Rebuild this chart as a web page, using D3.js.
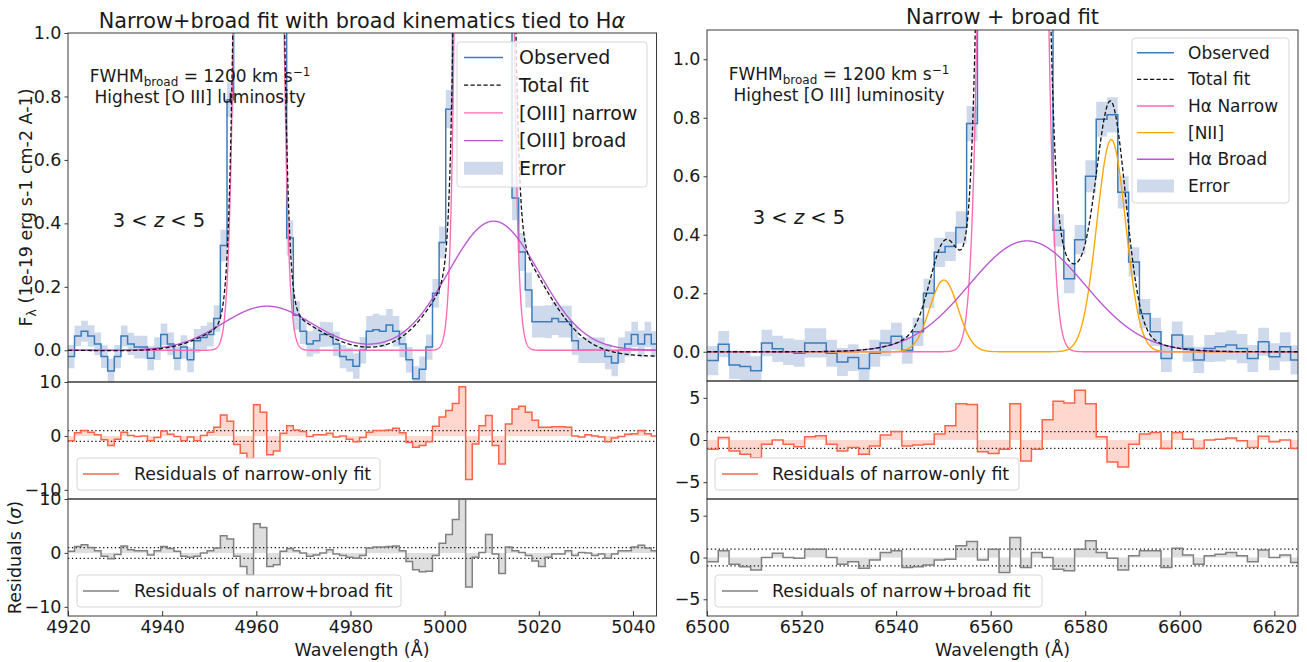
<!DOCTYPE html>
<html>
<head>
<meta charset="utf-8">
<script src="https://cdn.jsdelivr.net/npm/d3@7"></script>
<style>
  html, body { margin: 0; padding: 0; background: #ffffff; }
  svg { display: block; }
</style>
</head>
<body>
<script>
// ---------------- [O III] 4959, 5007 window ----------------
const oiiiWave = [
  4920.68, 4922.09, 4923.50, 4924.91, 4926.32, 4927.72, 4929.13, 4930.54, 4931.95, 4933.36,
  4934.76, 4936.17, 4937.58, 4938.99, 4940.40, 4941.80, 4943.21, 4944.62, 4946.03, 4947.44,
  4948.84, 4950.25, 4951.66, 4953.07, 4954.48, 4955.88, 4957.29, 4958.70, 4960.11, 4961.52,
  4962.92, 4964.33, 4965.74, 4967.15, 4968.56, 4969.96, 4971.37, 4972.78, 4974.19, 4975.60,
  4977.00, 4978.41, 4979.82, 4981.23, 4982.64, 4984.04, 4985.45, 4986.86, 4988.27, 4989.68,
  4991.08, 4992.49, 4993.90, 4995.31, 4996.72, 4998.12, 4999.53, 5000.94, 5002.35, 5003.76,
  5005.16, 5006.57, 5007.98, 5009.39, 5010.80, 5012.20, 5013.61, 5015.02, 5016.43, 5017.84,
  5019.24, 5020.65, 5022.06, 5023.47, 5024.88, 5026.28, 5027.69, 5029.10, 5030.51, 5031.92,
  5033.32, 5034.73, 5036.14, 5037.55, 5038.96, 5040.36, 5041.77, 5043.18, 5044.59
];
const oiiiFlux = [
  -0.02, 0.045, 0.06, 0.045, 0.02, -0.02, -0.065, -0.02, 0.045, 0.02,
  0.01, 0.01, -0.025, 0.005, 0.05, 0.02, -0.025, 0.01, -0.03, 0.03,
  0.04, 0.05, 0.10, 0.33, 0.79, 2.3, 6.4, 12.8, 17.3, 16.0,
  10.0, 4.3, 1.4, 0.354, 0.11, 0.06, 0.02, 0.03, 0.05, 0.05,
  0.02, -0.02, -0.03, -0.05, 0.0, 0.06, 0.065, 0.06, 0.08, 0.06,
  0.02, -0.03, -0.09, -0.06, 0.01, 0.18, 0.34, 0.76, 2.0, 6.6,
  18.9, 37.7, 51.0, 47.0, 30.0, 13.0, 4.0, 0.48, 0.31, 0.19,
  0.09, 0.09, 0.09, 0.10, 0.09, 0.09, 0.03, 0.0, 0.0, 0.0,
  0.0, -0.02, -0.04, 0.0, 0.02, 0.05, 0.02, 0.05, 0.02
];
const oiiiErr = [
  0.037, 0.032, 0.033, 0.034, 0.036, 0.036, 0.038, 0.037, 0.033, 0.035,
  0.036, 0.036, 0.038, 0.036, 0.034, 0.036, 0.038, 0.037, 0.039, 0.037,
  0.037, 0.038, 0.042, 0.05, 0.055, 0.1, 0.2, 0.3, 0.35, 0.35,
  0.3, 0.2, 0.1, 0.055, 0.045, 0.04, 0.04, 0.04, 0.04, 0.038,
  0.038, 0.037, 0.038, 0.04, 0.042, 0.048, 0.05, 0.05, 0.05, 0.048,
  0.042, 0.04, 0.04, 0.04, 0.04, 0.045, 0.05, 0.06, 0.12, 0.25,
  0.4, 0.5, 0.55, 0.55, 0.45, 0.3, 0.15, 0.07, 0.06, 0.055,
  0.05, 0.05, 0.052, 0.052, 0.05, 0.05, 0.045, 0.04, 0.04, 0.04,
  0.04, 0.04, 0.042, 0.04, 0.04, 0.04, 0.042, 0.04, 0.04
];
const oiiiResidNarrow = [
  -0.9, 0.6, 1.0, 0.7, 0.2, -0.7, -1.8, -0.6, 0.7, 0.1,
  -0.1, 0.0, -0.9, -0.3, 0.9, 0.3, -0.1, -0.9, -0.2, -0.9,
  0.1, 0.7, 1.6, 3.9, 2.7, -1.6, -3.2, -4.2, 5.8, 4.4,
  -3.5, -2.8, 0.5, 1.9, 1.1, 0.8, -0.1, 0.2, 0.2, 0.5,
  -0.2, 0.0, -0.6, -1.1, -0.3, 0.7, 1.0, 1.0, 1.1, 1.4,
  0.6, -1.2, -2.1, -1.8, -1.1, 1.8, 3.5, 4.7, 6.0, 9.1,
  -8.1, -1.5, 1.9, 3.8, -1.8, -5.2, 2.2, 5.0, 5.5, 4.4,
  2.9, 1.6, 1.6, 1.7, 1.7, 1.6, 0.0, -0.2, 0.2, 0.0,
  -0.2, -1.1, -0.4, -0.1, 0.3, 0.4, 1.0, 0.4, 0.0
];
const oiiiResidBroad = [
  0.3, 1.2, 1.5, 1.0, 0.4, -0.6, -1.1, -0.3, 1.3, 0.6,
  0.4, 0.4, -0.4, 0.4, 1.2, 0.8, 0.3, -0.6, -0.8, -0.6,
  0.0, 0.4, 0.9, 3.2, 2.6, -0.6, -2.5, -4.1, 5.4, 4.7,
  -2.5, -2.2, 0.3, 0.8, 0.4, 0.0, -0.6, -0.4, 0.0, 0.6,
  -0.2, -0.5, -0.8, -1.0, -0.5, 0.9, 1.1, 1.1, 1.2, 1.3,
  0.4, -1.6, -3.1, -3.5, -3.4, -0.5, 1.8, 3.4, 6.2, 10.5,
  -6.3, -0.8, 0.1, 3.4, -0.2, -3.8, 1.1, 0.4, 0.1, -0.5,
  -1.5, -2.5, -0.8, -0.2, -0.2, 0.4, -0.5, 0.1, 0.0, -0.5,
  -0.2, -1.0, -0.2, 0.4, 0.4, 1.1, 1.4, 0.9, 0.4
];
// Fitted Gaussian components: centre (Å), peak flux, sigma (Å)
const oiiiNarrowLines = [
  { center: 4960.5, peak: 17.6, sigma: 2.26 },
  { center: 5008.4, peak: 52.5, sigma: 2.28 }
];
const oiiiBroadLines = [
  { center: 4962.3, peak: 0.139, sigma: 9.5 },
  { center: 5010.4, peak: 0.407, sigma: 9.6 }
];
const oiiiContinuum = [ { wave: 4920, flux: 0.0 }, { wave: 5045, flux: -0.019 } ];

// ---------------- H-alpha + [N II] window ----------------
const haWave = [
  6501.24, 6503.52, 6505.81, 6508.09, 6510.38, 6512.66, 6514.94, 6517.23, 6519.51, 6521.80,
  6524.08, 6526.36, 6528.65, 6530.93, 6533.22, 6535.50, 6537.78, 6540.07, 6542.35, 6544.64,
  6546.92, 6549.20, 6551.49, 6553.77, 6556.06, 6558.34, 6560.62, 6562.91, 6565.19, 6567.48,
  6569.76, 6572.04, 6574.33, 6576.61, 6578.90, 6581.18, 6583.46, 6585.75, 6588.03, 6590.32,
  6592.60, 6594.88, 6597.17, 6599.45, 6601.74, 6604.02, 6606.30, 6608.59, 6610.87, 6613.16,
  6615.44, 6617.72, 6620.01, 6622.29, 6624.58
];
const haFlux = [
  -0.03, 0.026, -0.045, -0.05, -0.065, 0.03, 0.01, 0.0, -0.005, 0.03,
  0.03, -0.005, -0.035, -0.02, -0.057, -0.005, 0.03, 0.053, 0.005, 0.068,
  0.20, 0.34, 0.36, 0.425, 0.78, 3.3, 11.5, 23.8, 28.0, 18.6,
  7.1, 1.7, 0.415, 0.25, 0.383, 0.60, 0.795, 0.81, 0.545, 0.307,
  0.13, 0.068, -0.023, 0.057, 0.011, -0.028, 0.011, 0.017, 0.023, 0.011,
  -0.023, 0.034, -0.017, 0.017, -0.028
];
const haErr = [
  0.05, 0.045, 0.048, 0.05, 0.05, 0.045, 0.045, 0.045, 0.046, 0.05,
  0.05, 0.046, 0.048, 0.046, 0.05, 0.046, 0.045, 0.046, 0.046, 0.048,
  0.05, 0.05, 0.05, 0.055, 0.06, 0.15, 0.3, 0.45, 0.5, 0.4,
  0.25, 0.1, 0.055, 0.05, 0.05, 0.055, 0.06, 0.06, 0.055, 0.05,
  0.05, 0.048, 0.046, 0.046, 0.045, 0.045, 0.046, 0.05, 0.05, 0.05,
  0.046, 0.048, 0.046, 0.05, 0.05
];
const haResidNarrow = [
  -1.1, 0.3, -1.3, -1.7, -2.1, -0.5, 0.0, -0.5, -0.8, 0.4,
  0.5, -0.5, -1.3, -0.9, -1.7, -0.7, 0.6, 1.0, -0.7, -0.6,
  -0.5, 0.7, 1.7, 4.3, 4.2, -1.4, -1.6, -1.1, 4.3, -2.5,
  -1.1, 2.4, 4.6, 4.4, 5.9, 4.3, 0.4, -2.6, -3.2, -0.5,
  0.7, 0.9, -1.0, 0.9, 0.1, -1.0, 0.0, 0.1, 0.25, -0.1,
  -0.9, 0.45, -0.2, 0.0, -1.0
];
const haResidBroad = [
  -0.5, 0.8, -0.8, -1.1, -1.5, 0.0, 0.5, 0.0, -0.1, 1.0,
  1.0, 0.0, -0.8, -0.5, -1.3, -0.3, 0.6, 0.8, -1.2, -1.1,
  -0.9, -0.3, -0.2, 1.4, 1.9, -0.3, 1.0, -1.8, 2.4, -1.2,
  0.6, 0.0, -1.4, -1.6, 1.0, 2.0, 0.6, -0.1, -1.5, 0.2,
  0.8, 0.8, -1.2, 1.1, 0.3, -0.8, 0.2, 0.4, 0.6, 0.2,
  -0.5, 0.9, 0.0, 0.3, -0.6
];
const haNarrowLines = [ { center: 6564.7, peak: 28.0, sigma: 3.0 } ];
const niiLines = [
  { center: 6550.1, peak: 0.245, sigma: 3.0 },
  { center: 6585.5, peak: 0.725, sigma: 3.05 }
];
const haBroadLines = [ { center: 6567.7, peak: 0.379, sigma: 12.2 } ];
const haContinuum = [ { wave: 6500, flux: 0.0 }, { wave: 6625, flux: 0.0 } ];

// ---------------- ticks ----------------
const oiiiWaveTicks = [4920, 4940, 4960, 4980, 5000, 5020, 5040];
const haWaveTicks = [6500, 6520, 6540, 6560, 6580, 6600, 6620];
const fluxTicks = [0.0, 0.2, 0.4, 0.6, 0.8, 1.0];
const oiiiResidTicks = [-10, 0, 10];
const haResidTicks = [-5, 0, 5];

// ---------------- styling ----------------
const FONT = "'DejaVu Sans', 'Liberation Sans', Arial, sans-serif";
const C = {
  obs: "#3b7cbc", err: "#b0c4de", narrow: "#ff69b4", broad: "#ba55d3",
  nii: "#ffa500", total: "#111111", resRed: "#ff6347", resGrey: "#808080",
  spine: "#3a3a3a", text: "#1a1a1a"
};

const svg = d3.select("body").append("svg")
  .attr("width", 1307).attr("height", 662)
  .attr("font-family", FONT);
const defs = svg.append("defs");
let clipN = 0;

function makeAxes(xRange, yRange, xDom, yDom) {
  const x = d3.scaleLinear().domain(xDom).range(xRange);
  const y = d3.scaleLinear().domain(yDom).range([yRange[1], yRange[0]]);
  const id = "clip" + (clipN++);
  defs.append("clipPath").attr("id", id).append("rect")
    .attr("x", xRange[0]).attr("y", yRange[0])
    .attr("width", xRange[1] - xRange[0]).attr("height", yRange[1] - yRange[0]);
  const g = svg.append("g");
  const plot = g.append("g").attr("clip-path", `url(#${id})`);
  return { x, y, g, plot, xRange, yRange };
}

function frame(ax) {
  ax.g.append("rect")
    .attr("x", ax.xRange[0]).attr("y", ax.yRange[0])
    .attr("width", ax.xRange[1] - ax.xRange[0]).attr("height", ax.yRange[1] - ax.yRange[0])
    .attr("fill", "none").attr("stroke", C.spine).attr("stroke-width", 1);
}

const minusFmt = d => (d < 0 ? "\u2212" + Math.abs(d) : String(d));

function yAxis(ax, ticks, fmt) {
  const a = d3.axisLeft(ax.y).tickValues(ticks).tickFormat(fmt)
    .tickSizeInner(3.5).tickSizeOuter(0).tickPadding(3);
  const gg = ax.g.append("g").attr("transform", `translate(${ax.xRange[0]},0)`).call(a);
  gg.attr("font-family", null).attr("font-size", null);
  gg.select(".domain").remove();
  gg.selectAll("line").attr("stroke", C.spine);
  gg.selectAll("text").attr("font-size", 17.5).attr("fill", C.text).attr("font-family", FONT);
}

function xAxis(ax, ticks) {
  const a = d3.axisBottom(ax.x).tickValues(ticks).tickFormat(d3.format("d"))
    .tickSizeInner(-5).tickSizeOuter(0).tickPadding(4.6);
  const gg = ax.g.append("g").attr("transform", `translate(0,${ax.yRange[1]})`).call(a);
  gg.attr("font-family", null).attr("font-size", null);
  gg.select(".domain").remove();
  gg.selectAll("line").attr("stroke", C.spine);
  gg.selectAll("text").attr("font-size", 17.5).attr("fill", C.text).attr("font-family", FONT);
}

// step outline with each bin spanning half-way to its neighbours
function stepEdges(wave) {
  const n = wave.length, e = [];
  e.push(wave[0] - (wave[1] - wave[0]) / 2);
  for (let i = 1; i < n; i++) e.push((wave[i - 1] + wave[i]) / 2);
  e.push(wave[n - 1] + (wave[n - 1] - wave[n - 2]) / 2);
  return e;
}
function stepRows(wave, cols) {
  const e = stepEdges(wave), rows = [];
  for (let i = 0; i < wave.length; i++) rows.push({ w: e[i], v: cols.map(c => c[i]) });
  rows.push({ w: e[wave.length], v: cols.map(c => c[wave.length - 1]) });
  return rows;
}

function profile(lines, w) {
  return d3.sum(lines, l => l.peak * Math.exp(-0.5 * ((w - l.center) / l.sigma) ** 2));
}

function spectrumPanel(ax, wave, flux, err, components, continuum, wDom) {
  const rows = stepRows(wave, [flux, err]);
  ax.plot.append("path").datum(rows)
    .attr("d", d3.area().curve(d3.curveStepAfter)
      .x(d => ax.x(d.w)).y0(d => ax.y(d.v[0] - d.v[1])).y1(d => ax.y(d.v[0] + d.v[1])))
    .attr("fill", C.err).attr("fill-opacity", 0.62);
  ax.plot.append("path").datum(rows)
    .attr("d", d3.line().curve(d3.curveStepAfter).x(d => ax.x(d.w)).y(d => ax.y(d.v[0])))
    .attr("fill", "none").attr("stroke", C.obs).attr("stroke-width", 1.5);

  const grid = d3.range(wDom[0], wDom[1] + 0.001, 0.04);
  const cont = d3.scaleLinear().domain(continuum.map(d => d.wave)).range(continuum.map(d => d.flux));
  const curve = (fn, color, width, dash) => {
    ax.plot.append("path").datum(grid)
      .attr("d", d3.line().x(w => ax.x(w)).y(w => ax.y(Math.min(fn(w), 5))))
      .attr("fill", "none").attr("stroke", color).attr("stroke-width", width)
      .attr("stroke-dasharray", dash || null);
  };
  components.forEach(c => curve(w => profile(c.lines, w), c.color, 1.35));
  curve(w => d3.sum(components, c => profile(c.lines, w)) + cont(w), C.total, 1.3, "4.2,2.3");
}

function residPanel(ax, wave, res, color) {
  const rows = stepRows(wave, [res]);
  ax.plot.append("path").datum(rows)
    .attr("d", d3.area().curve(d3.curveStepAfter)
      .x(d => ax.x(d.w)).y0(ax.y(0)).y1(d => ax.y(d.v[0])))
    .attr("fill", color).attr("fill-opacity", 0.26);
  [-1, 1].forEach(v => {
    ax.plot.append("line")
      .attr("x1", ax.xRange[0]).attr("x2", ax.xRange[1])
      .attr("y1", ax.y(v)).attr("y2", ax.y(v))
      .attr("stroke", "#111").attr("stroke-width", 1.2).attr("stroke-dasharray", "1.3,2.6");
  });
  ax.plot.append("path").datum(rows)
    .attr("d", d3.line().curve(d3.curveStepAfter).x(d => ax.x(d.w)).y(d => ax.y(d.v[0])))
    .attr("fill", "none").attr("stroke", color).attr("stroke-width", 1.5);
}

function legend(cfg) {
  const g = svg.append("g");
  g.append("rect").attr("x", cfg.box[0]).attr("y", cfg.box[1])
    .attr("width", cfg.box[2]).attr("height", cfg.box[3])
    .attr("rx", 3.5).attr("fill", "#ffffff").attr("fill-opacity", 0.8)
    .attr("stroke", "#d6d6d6").attr("stroke-width", 1);
  cfg.items.forEach((it, i) => {
    const cy = cfg.y0 + i * cfg.dy;
    if (it.kind === "patch") {
      g.append("rect").attr("x", cfg.hx[0]).attr("y", cy - 6.5)
        .attr("width", cfg.hx[1] - cfg.hx[0]).attr("height", 13)
        .attr("fill", C.err).attr("fill-opacity", 0.62);
    } else {
      g.append("line").attr("x1", cfg.hx[0]).attr("x2", cfg.hx[1]).attr("y1", cy).attr("y2", cy)
        .attr("stroke", it.color).attr("stroke-width", it.width || 1.4)
        .attr("stroke-dasharray", it.kind === "dash" ? "4.2,2.3" : null);
    }
    g.append("text").attr("x", cfg.tx).attr("y", cy + cfg.fs * 0.36)
      .attr("font-size", cfg.fs).attr("fill", C.text).text(it.label);
  });
}

function text(x, y, s, size, anchor, rotate) {
  const t = svg.append("text").attr("x", x).attr("y", y)
    .attr("font-size", size).attr("fill", C.text)
    .attr("text-anchor", anchor || "start");
  if (rotate) t.attr("transform", `rotate(${rotate},${x},${y})`);
  if (s !== null) t.text(s);
  return t;
}

function fwhmNote(cx, y1, y2) {
  const t = text(cx, y1, null, 17, "middle");
  t.append("tspan").text("FWHM");
  t.append("tspan").attr("font-size", 12).attr("dy", 4).text("broad");
  t.append("tspan").attr("dy", -4).text(" = 1200 km s");
  t.append("tspan").attr("font-size", 12).attr("dy", -6).text("\u22121");
  text(cx, y2, "Highest [O III] luminosity", 17, "middle");
}

function redshiftNote(cx, y) {
  const t = text(cx, y, null, 19.5, "middle");
  t.append("tspan").text("3 < ");
  t.append("tspan").attr("font-style", "italic").text("z");
  t.append("tspan").text(" < 5");
}

// ---------------- left column: [O III] ----------------
const Lx = [68, 656.5], Lw = [4920, 5045];
const Ltop = makeAxes(Lx, [33, 382], Lw, [-0.1, 1.0]);
const Lr1 = makeAxes(Lx, [382, 499], Lw, [-11.7, 10]);
const Lr2 = makeAxes(Lx, [499, 616], Lw, [-11.7, 10]);

spectrumPanel(Ltop, oiiiWave, oiiiFlux, oiiiErr,
  [ { lines: oiiiNarrowLines, color: C.narrow }, { lines: oiiiBroadLines, color: C.broad } ],
  oiiiContinuum, Lw);
residPanel(Lr1, oiiiWave, oiiiResidNarrow, C.resRed);
residPanel(Lr2, oiiiWave, oiiiResidBroad, C.resGrey);
[Ltop, Lr1, Lr2].forEach(frame);
yAxis(Ltop, fluxTicks, d3.format(".1f"));
yAxis(Lr1, oiiiResidTicks, minusFmt);
yAxis(Lr2, oiiiResidTicks, minusFmt);
xAxis(Lr2, oiiiWaveTicks);

// ---------------- right column: H-alpha + [N II] ----------------
const Rx = [707, 1298], Rw = [6500, 6625];
const Rtop = makeAxes(Rx, [30, 381], Rw, [-0.1, 1.1]);
const Rr1 = makeAxes(Rx, [381, 499], Rw, [-7, 7]);
const Rr2 = makeAxes(Rx, [499, 616], Rw, [-7, 7]);

spectrumPanel(Rtop, haWave, haFlux, haErr,
  [ { lines: haNarrowLines, color: C.narrow }, { lines: niiLines, color: C.nii },
    { lines: haBroadLines, color: C.broad } ],
  haContinuum, Rw);
residPanel(Rr1, haWave, haResidNarrow, C.resRed);
residPanel(Rr2, haWave, haResidBroad, C.resGrey);
[Rtop, Rr1, Rr2].forEach(frame);
yAxis(Rtop, fluxTicks, d3.format(".1f"));
yAxis(Rr1, haResidTicks, minusFmt);
yAxis(Rr2, haResidTicks, minusFmt);
xAxis(Rr2, haWaveTicks);

// ---------------- legends ----------------
legend({
  box: [457, 42, 190, 145], y0: 57.5, dy: 27.7, hx: [464, 503], tx: 519, fs: 19,
  items: [
    { label: "Observed", color: C.obs, width: 1.5 },
    { label: "Total fit", color: C.total, kind: "dash", width: 1.3 },
    { label: "[OIII] narrow", color: C.narrow },
    { label: "[OIII] broad", color: C.broad },
    { label: "Error", kind: "patch" }
  ]
});
legend({
  box: [1132, 38, 157, 165], y0: 52.7, dy: 26.65, hx: [1137, 1174], tx: 1188, fs: 17,
  items: [
    { label: "Observed", color: C.obs, width: 1.5 },
    { label: "Total fit", color: C.total, kind: "dash", width: 1.3 },
    { label: "H\u03b1 Narrow", color: C.narrow },
    { label: "[NII]", color: C.nii },
    { label: "H\u03b1 Broad", color: C.broad },
    { label: "Error", kind: "patch" }
  ]
});
legend({ box: [77, 458, 303, 32], y0: 474, dy: 0, hx: [83, 119], tx: 134, fs: 17.4,
  items: [ { label: "Residuals of narrow-only fit", color: C.resRed, width: 1.5 } ] });
legend({ box: [77, 575, 324, 32], y0: 591, dy: 0, hx: [83, 119], tx: 134, fs: 17.4,
  items: [ { label: "Residuals of narrow+broad fit", color: C.resGrey, width: 1.5 } ] });
legend({ box: [715, 458, 304, 32], y0: 474, dy: 0, hx: [722, 758], tx: 772, fs: 17.4,
  items: [ { label: "Residuals of narrow-only fit", color: C.resRed, width: 1.5 } ] });
legend({ box: [715, 575, 327, 32], y0: 591, dy: 0, hx: [722, 758], tx: 772, fs: 17.4,
  items: [ { label: "Residuals of narrow+broad fit", color: C.resGrey, width: 1.5 } ] });

// ---------------- annotations ----------------
fwhmNote(200, 82, 103);
fwhmNote(839, 79.5, 101);
redshiftNote(159, 227);
redshiftNote(799, 224);

// ---------------- titles and axis labels ----------------
const lt = text(362, 28, null, 20.8, "middle");
lt.append("tspan").text("Narrow+broad fit with broad kinematics tied to H");
lt.append("tspan").attr("font-style", "italic").text("\u03b1");
text(1002.5, 24, "Narrow + broad fit", 20.8, "middle");

const yl = text(31.5, 207.5, null, 17.5, "middle", -90);
yl.append("tspan").text("F");
yl.append("tspan").attr("font-size", 12.5).attr("dy", 4).text("\u03bb");
yl.append("tspan").attr("dy", -4).text(" (1e-19 erg s-1 cm-2 A-1)");
const rl = text(21, 557.5, null, 17.5, "middle", -90);
rl.append("tspan").text("Residuals (");
rl.append("tspan").attr("font-style", "italic").text("\u03c3");
rl.append("tspan").text(")");

text(362, 656, "Wavelength (\u00c5)", 17.5, "middle");
text(1002.5, 656, "Wavelength (\u00c5)", 17.5, "middle");
</script>
</body>
</html>
